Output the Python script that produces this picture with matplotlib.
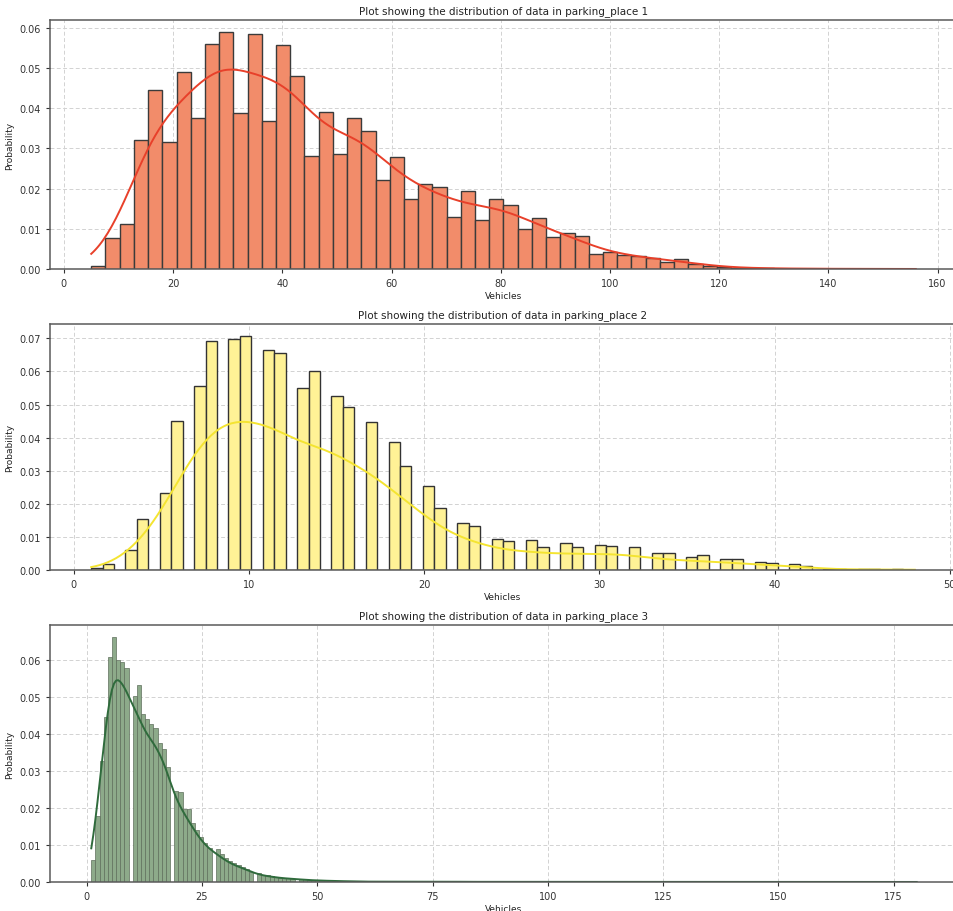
import numpy as np
import matplotlib
matplotlib.use("Agg")
import matplotlib.pyplot as plt

# ---------------- data ----------------
# parking_place 1 : binned probabilities (58 bins from 5 to 156 vehicles)
p1_range = (5.0, 156.0)
p1_nbins = 58
p1_probs = [0.0007, 0.0077, 0.0112, 0.0321, 0.0445, 0.0317, 0.0491, 0.0375, 0.0561, 0.0590,
            0.0388, 0.0585, 0.0368, 0.0557, 0.0480, 0.0282, 0.0391, 0.0285, 0.0375, 0.0344,
            0.0222, 0.0279, 0.0173, 0.0212, 0.0204, 0.0130, 0.0193, 0.0123, 0.0174, 0.0160,
            0.0100, 0.0127, 0.0079, 0.0089, 0.0081, 0.0037, 0.0042, 0.0035, 0.0032, 0.0027,
            0.0017, 0.0025, 0.0012, 0.0007, 0.0005, 0.0003, 0.0002, 0.0002, 0.0001, 0.0001,
            0.0001, 0.00005, 0.00005, 0.00003, 0.00003, 0.00002, 0.00002, 0.00002]

# parking_place 2 : probability of each vehicle count 1..48 (72 bins)
p2_values = list(range(1, 49))
p2_probs = [0.0006, 0.0017, 0.0059, 0.0154, 0.0234, 0.0449, 0.0556, 0.0691, 0.0697, 0.0708,
            0.0664, 0.0657, 0.0549, 0.0600, 0.0527, 0.0494, 0.0447, 0.0386, 0.0314, 0.0254,
            0.0188, 0.0142, 0.0134, 0.0093, 0.0087, 0.0091, 0.0069, 0.0082, 0.0070, 0.0077,
            0.0074, 0.0070, 0.0050, 0.0050, 0.0040, 0.0044, 0.0033, 0.0033, 0.0025, 0.0021,
            0.0019, 0.0011, 0.0004, 0.0003, 0.0002, 0.0002, 0.0003, 0.0001]
p2_nbins = 72

# parking_place 3 : probability of each vehicle count 1..180 (199 bins)
p3_values = list(range(1, 181))
p3_head = [0.0059, 0.0179, 0.0328, 0.0446, 0.0608, 0.0661, 0.0600, 0.0593, 0.0579, 0.0502,
           0.0531, 0.0455, 0.0441, 0.0427, 0.0415, 0.0375, 0.0360, 0.0310, 0.0245, 0.0243,
           0.0196, 0.0196, 0.0158, 0.0140, 0.0122, 0.0106, 0.0093, 0.0088, 0.0075, 0.0064,
           0.0058, 0.0050, 0.0045, 0.0041, 0.0035, 0.0028, 0.0024, 0.0020, 0.0018, 0.0016,
           0.0014, 0.0012, 0.0011, 0.0010, 0.0009, 0.0008, 0.0007, 0.0006, 0.0005, 0.0005,
           0.0004, 0.0004, 0.0003, 0.0003, 0.0003, 0.0002, 0.0002, 0.0002, 0.0002, 0.0001]
p3_tail = [0.0001] * 20 + [0.00005] * 40 + [0.00002] * 60
p3_probs = p3_head + p3_tail
p3_nbins = 199

titles = ["Plot showing the distribution of data in parking_place 1",
          "Plot showing the distribution of data in parking_place 2",
          "Plot showing the distribution of data in parking_place 3"]
xlabel = "Vehicles"
ylabel = "Probability"

# ---------------- style ----------------
plt.rcParams['font.family'] = ['DejaVu Sans']
W, H = 954, 912
fig = plt.figure(figsize=(W / 100, H / 100), dpi=100)


def px_axes(left, right, top, bottom):
    return fig.add_axes([left / W, 1 - bottom / H, (right - left) / W, (bottom - top) / H])


def wkde(centers, weights, lo, hi, bw, scale):
    c = np.asarray(centers, float)
    w = np.asarray(weights, float)
    x = np.linspace(lo, hi, 400)
    d = (w[None, :] * np.exp(-0.5 * ((x[:, None] - c[None, :]) / bw) ** 2)).sum(1)
    d /= (np.sqrt(2 * np.pi) * bw * w.sum())
    return x, d * scale


def style(ax, title):
    ax.set_title(title, fontsize=7.5, color='#222222', pad=5)
    ax.set_xlabel(xlabel, fontsize=6.5, color='#222222', labelpad=2)
    ax.set_ylabel(ylabel, fontsize=6.5, color='#222222', labelpad=4)
    ax.grid(True, linestyle=(0, (4, 2.5)), color='#d2d2d2', linewidth=0.7)
    ax.set_axisbelow(True)
    ax.tick_params(labelsize=7, colors='#333333', length=3, width=0.8)
    for s in ax.spines.values():
        s.set_color('#5a5a5a')
        s.set_linewidth(1.1)


axes = [px_axes(50, 957, 21, 270), px_axes(50, 956, 325, 571), px_axes(50, 958, 626, 883)]

# panel 1
ax = axes[0]
edges1 = np.linspace(p1_range[0], p1_range[1], p1_nbins + 1)
centers1 = (edges1[:-1] + edges1[1:]) / 2
ax.hist(centers1, bins=edges1, weights=p1_probs, color='#F28C6A', edgecolor='#3b3b3b', linewidth=1.0)
bw1 = edges1[1] - edges1[0]
x, y = wkde(centers1, p1_probs, p1_range[0], p1_range[1], 4.6, bw1 * sum(p1_probs))
ax.plot(x, y, color='#E8402A', linewidth=1.4)
style(ax, titles[0])

# panel 2
ax = axes[1]
_, edges2, _ = ax.hist(p2_values, bins=p2_nbins, range=(min(p2_values), max(p2_values)),
                       weights=p2_probs, color='#FFF296', edgecolor='#333333', linewidth=1.0)
bw2 = edges2[1] - edges2[0]
x, y = wkde(p2_values, p2_probs, min(p2_values), max(p2_values), 1.2, bw2 * sum(p2_probs))
ax.plot(x, y, color='#F4E431', linewidth=1.4)
style(ax, titles[1])

# panel 3
ax = axes[2]
_, edges3, _ = ax.hist(p3_values, bins=p3_nbins, range=(min(p3_values), max(p3_values)),
                       weights=p3_probs, color='#8DAA8A', edgecolor='#5f6f5c', linewidth=0.5)
bw3 = edges3[1] - edges3[0]
x, y = wkde(p3_values, p3_probs, min(p3_values), max(p3_values), 1.3, bw3 * sum(p3_probs))
ax.plot(x, y, color='#2F6B3C', linewidth=1.4)
style(ax, titles[2])

fig.savefig("out.png", dpi=100)
